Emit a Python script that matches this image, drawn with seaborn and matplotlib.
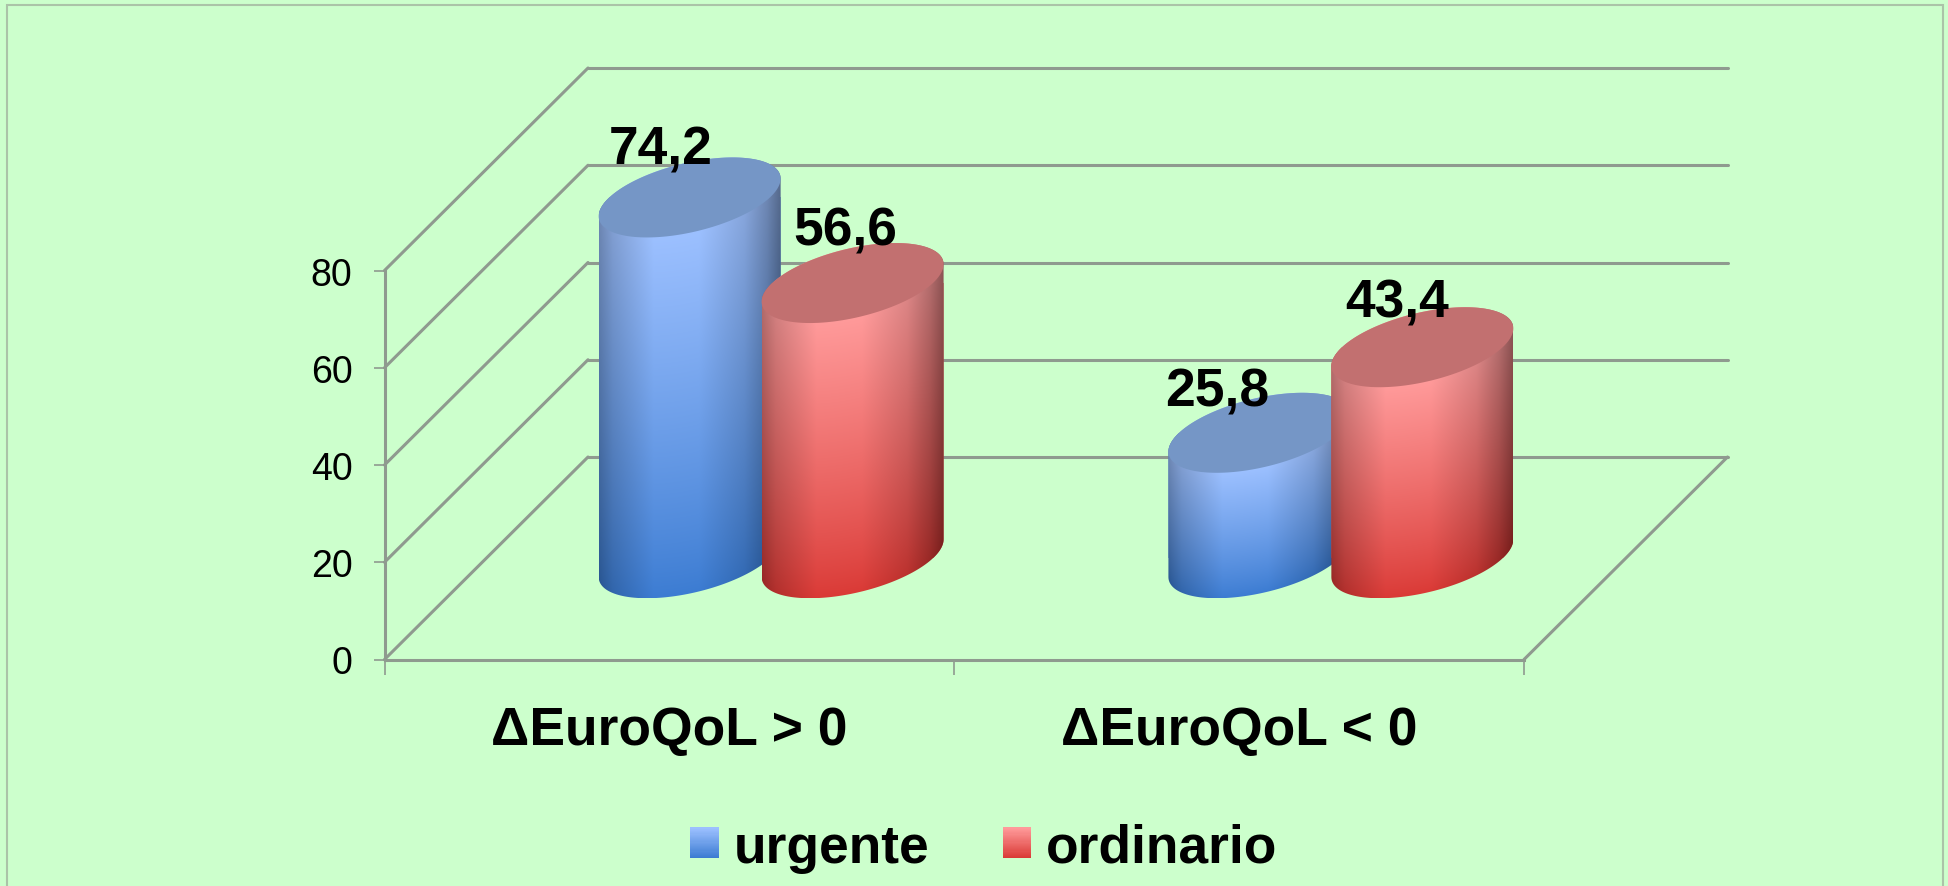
import numpy as np
import pandas as pd
import seaborn as sns
import matplotlib
matplotlib.use("Agg")
import matplotlib.pyplot as plt
from matplotlib.font_manager import FontProperties
from matplotlib.legend_handler import HandlerBase
from matplotlib.patches import ConnectionPatch, Patch, Polygon, Rectangle
from matplotlib.path import Path

# ---- data -------------------------------------------------------------
categories = ["\u0394EuroQoL > 0", "\u0394EuroQoL < 0"]
series_names = ["urgente", "ordinario"]
urgente = [74.2, 25.8]
ordinario = [56.6, 43.4]
y_ticks = [0, 20, 40, 60, 80]

# ---- style ------------------------------------------------------------
BG = "#CCFFCC"
GRID = "#8f9a8f"
FRAME = "#abc3a8"
FONT = "Liberation Sans"
LABEL_PT = 38.4
TICK_PT = 27
GRID_LW = 2.2
top_cols = {"urgente": "#9CC0FF", "ordinario": "#FF9A9A"}
bot_cols = {"urgente": "#3C7CD2", "ordinario": "#DA3A36"}
cap_cols = {"urgente": "#7596C6", "ordinario": "#C27070"}
# pixel offset of each value label from the centre of its cylinder's cap
label_nudges_px = [(-29, 34), (-42, 27), (-7, 39), (-25, 31)]

W, H = 1949, 887
sns.set_style("white")
plt.rcParams["font.family"] = [FONT, "DejaVu Sans"]
fig = plt.figure(figsize=(W / 100, H / 100), dpi=100, facecolor=BG)


def add_axes_px(left, top, right, bottom):
    return fig.add_axes([left / W, 1 - bottom / H, (right - left) / W, (bottom - top) / H])


# Plot planes: front (axes), middle (cylinders) and back wall (grid)
FX0, FX1, FY0, FY80 = 384.5, 1524, 660.5, 271.5
DX, DY = 203.5, 202.5
ax = add_axes_px(FX0, FY80, FX1, FY0)
ax_back = add_axes_px(FX0 + DX, FY80 - DY, FX1 + DX, FY0 - DY)
ax_mid = add_axes_px(FX0 + DX / 2, FY80 - DY / 2, FX1 + DX / 2, FY0 - DY / 2)
ax_back.set_zorder(0)
ax.set_zorder(1)
ax_mid.set_zorder(2)
for a in (ax, ax_back, ax_mid):
    a.patch.set_visible(False)

# Back wall
ax_back.set(xlim=(-0.5, 1.5), ylim=(0, 80), xticks=[], yticks=y_ticks)
ax_back.tick_params(left=False, labelleft=False)
ax_back.grid(axis="y", color=GRID, lw=GRID_LW)
for gl in ax_back.get_ygridlines():
    gl.set_clip_on(False)
sns.despine(ax=ax_back, left=True, bottom=True)

# Front axes
ax.set(xlim=(-0.5, 1.5), ylim=(0, 80))
ax.set_yticks(y_ticks)
ax.set_yticklabels([str(v) for v in y_ticks], fontsize=TICK_PT, color="black")
ax.set_xticks([0, 1])
ax.set_xticklabels(categories, fontsize=LABEL_PT, fontweight="bold", color="black")
ax.set_xticks([-0.5, 0.5, 1.5], minor=True)
ax.tick_params(axis="x", which="major", length=0, pad=33)
ax.tick_params(axis="x", which="minor", length=11, width=1.2, color=GRID, bottom=True)
ax.tick_params(axis="y", length=8, width=1.2, color=GRID, pad=15, left=True)
sns.despine(ax=ax)
for side in ("left", "bottom"):
    ax.spines[side].set_color(GRID)
    ax.spines[side].set_linewidth(GRID_LW)

# Side wall and floor diagonals
for v in y_ticks:
    fig.add_artist(ConnectionPatch((-0.5, v), (-0.5, v), coordsA=ax.transData, coordsB=ax_back.transData,
                                   color=GRID, lw=GRID_LW, zorder=1))
fig.add_artist(ConnectionPatch((1.5, 0), (1.5, 0), coordsA=ax.transData, coordsB=ax_back.transData,
                               color=GRID, lw=GRID_LW, zorder=1))

# Bars through seaborn
df = pd.DataFrame({
    "category": categories * 2,
    "series": [series_names[0]] * 2 + [series_names[1]] * 2,
    "value": urgente + ordinario,
})
sns.barplot(data=df, x="category", y="value", hue="series", hue_order=series_names,
            palette=[bot_cols[s] for s in series_names], width=0.572, gap=-0.1167,
            legend=False, ax=ax_mid, linewidth=0)
ax_mid.set(xlim=(-0.5, 1.5), ylim=(0, 80))
ax_mid.axis("off")

# Cylinder geometry: tilted ellipse with half-height in value units
CAP_H = 40 / ((FY0 - FY80) / 80)
RHO = 0.47
PHI = np.arccos(RHO)


def ellipse_xy(t, cx, w, cy):
    return cx + w * np.cos(t), cy + CAP_H * np.cos(t - PHI)


def colour(c):
    return np.array(matplotlib.colors.to_rgb(c))


bars = list(ax_mid.patches)
series_of_bar = [series_names[0]] * 2 + [series_names[1]] * 2
values = urgente + ordinario
for i, (bar, name, val) in enumerate(zip(bars, series_of_bar, values)):
    z = 3 + i
    w = bar.get_width() / 2
    cx = bar.get_x() + w
    lower = np.linspace(np.pi, 2 * np.pi, 90)
    upper = np.linspace(0, np.pi, 90)
    xl, yl = ellipse_xy(lower, cx, w, 0)
    xu, yu = ellipse_xy(upper, cx, w, val)
    outline = np.column_stack([np.r_[xl, xu], np.r_[yl, yu]])
    clip = Path(np.vstack([outline, outline[:1]]), closed=True)

    # shaded surface: vertical gradient following the curvature, horizontal falloff
    ylo, yhi = -CAP_H, val + CAP_H
    nx, ny = 240, 500
    u = np.linspace(-1, 1, nx)
    yy = np.linspace(ylo, yhi, ny)
    U, Y = np.meshgrid(u, yy)
    arc = CAP_H * (U * np.cos(PHI) - np.sqrt(1 - U ** 2) * np.sin(PHI))
    h = np.clip((Y - arc) / val, 0, 1)[..., None]
    shade = np.interp(U, [-1, -0.85, -0.4, 0.1, 0.6, 0.85, 1],
                      [0.70, 0.82, 1, 1, 0.86, 0.70, 0.55])[..., None]
    rgb = (colour(bot_cols[name]) + (colour(top_cols[name]) - colour(bot_cols[name])) * h ** 0.9) * shade
    im = ax_mid.imshow(np.clip(rgb, 0, 1), origin="lower", aspect="auto", interpolation="bilinear",
                       extent=(cx - w, cx + w, ylo, yhi), zorder=z + 0.1)
    im.set_clip_path(clip, ax_mid.transData)
    im.set_clip_box(fig.bbox)

    bar.set_zorder(z)
    bar.set_clip_path(clip, ax_mid.transData)
    bar.set_clip_box(fig.bbox)

    tt = np.linspace(0, 2 * np.pi, 180)
    xc, yc = ellipse_xy(tt, cx, w, val)
    ax_mid.add_patch(Polygon(np.column_stack([xc, yc]), closed=True, facecolor=cap_cols[name],
                             edgecolor="none", zorder=z + 0.2, clip_on=False))

    dx, dy = label_nudges_px[i]
    ax_mid.annotate(f"{val:.1f}".replace(".", ","), xy=(cx, val), xytext=(dx * 0.72, dy * 0.72),
                    textcoords="offset points", ha="center", va="baseline",
                    fontsize=LABEL_PT, fontweight="bold", color="black",
                    annotation_clip=False, zorder=20)
ax_mid.set(xlim=(-0.5, 1.5), ylim=(0, 80))


# Legend with gradient swatches
class GradientHandler(HandlerBase):
    def __init__(self, top, bot):
        super().__init__()
        self.top, self.bot = colour(top), colour(bot)

    def create_artists(self, legend, orig_handle, xdescent, ydescent, width, height, fontsize, trans):
        n = 27
        out = []
        for k in range(n):
            f = k / (n - 1)
            out.append(Rectangle((-xdescent, -ydescent + height * k / n), width, height / n + 0.2,
                                 facecolor=self.bot + (self.top - self.bot) * f, edgecolor="none",
                                 transform=trans))
        return out


handles = [Patch(label=s) for s in series_names]
fig.legend(handles=handles, labels=series_names, ncol=2, loc="center",
           bbox_to_anchor=(984 / W, 1 - 849 / H), frameon=False, labelcolor="black",
           prop=FontProperties(family=FONT, weight="bold", size=LABEL_PT),
           handlelength=0.53, handleheight=0.51, handletextpad=0.28, columnspacing=1.385,
           borderpad=0, borderaxespad=0,
           handler_map={h: GradientHandler(top_cols[s], bot_cols[s]) for h, s in zip(handles, series_names)})

# Outer frame (bottom edge falls outside the picture)
fig.add_artist(Rectangle((7 / W, -0.02), (1943 - 7) / W, 1.02 - 5.5 / H, transform=fig.transFigure,
                         fill=False, edgecolor=FRAME, lw=1.5, zorder=0))

fig.savefig("out.png", dpi=100, facecolor=BG)
